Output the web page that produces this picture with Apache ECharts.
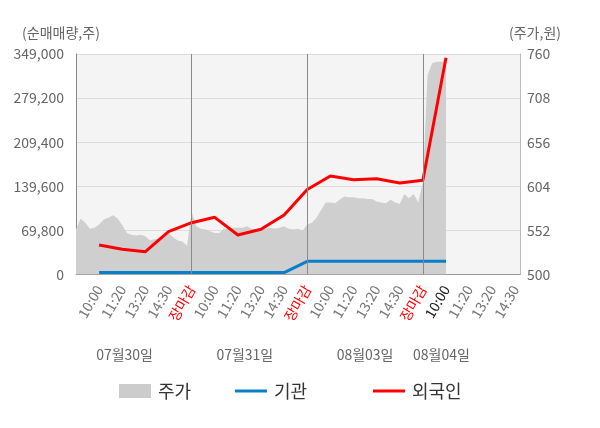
<!DOCTYPE html>
<html>
<head>
<meta charset="utf-8">
<script src="https://cdn.jsdelivr.net/npm/echarts@6/dist/echarts.min.js"></script>
<style>
html,body{margin:0;padding:0;background:#fff;}
#chart{width:600px;height:428px;}
</style>
</head>
<body>
<div id="chart"></div>
<script>
// ---- data ----
const dayLabels = ['07월30일', '07월31일', '08월03일', '08월04일'];
const tickLabels = ['', '10:00', '11:20', '13:20', '14:30', '장마감',
  '10:00', '11:20', '13:20', '14:30', '장마감',
  '10:00', '11:20', '13:20', '14:30', '장마감',
  '10:00', '11:20', '13:20', '14:30'];
const leftTicks = [0, 69800, 139600, 209400, 279200, 349000];
const rightTicks = [500, 552, 604, 656, 708, 760];

// intraday price (주가, 원), sampled 5 per label slot
const priceDay1 = [553, 566, 561, 554, 555, 559, 565, 567, 570, 566, 558, 549, 547, 546, 547, 545, 540, 542, 542, 546, 549, 544, 540, 539, 534];
const priceDay2 = [574, 557, 554, 553, 551, 549, 549, 554, 554, 555, 555, 555, 557, 554, 553, 554, 554, 555, 554, 555, 557, 554, 553, 554, 552];
const priceDay3 = [559, 561, 567, 576, 585, 585, 584, 588, 592, 591, 591, 590, 590, 589, 589, 586, 585, 584, 588, 585, 583, 595, 590, 595, 585];
const priceDay4 = [609, 735, 749, 751, 751, 751];

// cumulative net buying (주), one value per tick label from the first 10:00
const institutionNet = [3000, 3000, 3000, 3000, 3000, 3000, 3000, 3000, 3000, 20900, 20900, 20900, 20900, 20900, 20900, 20900];
const foreignNet = [46700, 39900, 36100, 67700, 82000, 90500, 62500, 71500, 94200, 134500, 155900, 150000, 151600, 144800, 149100, 343100];

// ---- build ----
const slotsPerDay = 5;
const samplesPerSlot = 5;
const priceDays = [priceDay1, priceDay2, priceDay3, priceDay4];
const priceData = [];
priceDays.forEach((arr, d) => {
  arr.forEach((v, i) => priceData.push([d * slotsPerDay + i / samplesPerSlot, v]));
});
const instData = institutionNet.map((v, i) => [i + 1, v]);
const forData = foreignNet.map((v, i) => [i + 1, v]);
const currentSlot = foreignNet.length;
const dayBounds = [1, 2, 3].map(d => ({ xAxis: d * slotsPerDay }));
const fmt = v => String(v).replace(/\B(?=(\d{3})+(?!\d))/g, ',');

const chart = echarts.init(document.getElementById('chart'));
const font = '"Noto Sans CJK KR", "Noto Sans", sans-serif';
const lineIcon = 'path://M0,0 L32,0 L32,3 L0,3 Z';
const legendText = { fontSize: 18, color: '#333', fontFamily: font, padding: [0, 0, 0, 2] };
chart.setOption({
  animation: false,
  textStyle: { fontFamily: font },
  grid: { left: 76, right: 80, top: 54, bottom: 153.5, show: true, backgroundColor: '#f4f4f4', borderWidth: 0 },
  xAxis: {
    type: 'value', min: 0, max: 19.2, interval: 1,
    axisLine: { show: true, lineStyle: { color: '#999', width: 1 } },
    axisTick: { show: false },
    splitLine: { show: false },
    axisLabel: {
      rotate: 60, margin: 12, fontSize: 14, color: '#777', fontFamily: font,
      showMaxLabel: false,
      formatter: function (v) {
        const k = Math.round(v);
        if (Math.abs(v - k) > 1e-6) return '';
        const s = tickLabels[k] || '';
        if (!s) return '';
        if (s === '장마감') return '{c|' + s + '}';
        if (k === currentSlot) return '{d|' + s + '}';
        return s;
      },
      rich: {
        c: { color: '#ff0000', fontSize: 14, fontFamily: font },
        d: { color: '#222', fontSize: 14, fontFamily: font }
      }
    }
  },
  yAxis: [
    {
      type: 'value', min: leftTicks[0], max: leftTicks[leftTicks.length - 1], interval: leftTicks[1] - leftTicks[0],
      axisLine: { show: true, lineStyle: { color: '#888' } },
      axisTick: { show: false },
      splitLine: { show: true, lineStyle: { color: '#dcdcdc', width: 1 } },
      axisLabel: { margin: 12, fontSize: 14, color: '#666', fontFamily: font, formatter: fmt }
    },
    {
      type: 'value', min: rightTicks[0], max: rightTicks[rightTicks.length - 1], interval: rightTicks[1] - rightTicks[0],
      position: 'right',
      axisLine: { show: true, lineStyle: { color: '#bbb' } },
      axisTick: { show: false },
      splitLine: { show: false },
      axisLabel: { margin: 7, fontSize: 14, color: '#666', fontFamily: font }
    }
  ],
  legend: [
    { left: 114, top: 377, itemWidth: 32, itemHeight: 14, itemGap: 0, data: [{ name: '주가', icon: 'rect' }], textStyle: legendText },
    { left: 230, top: 377, itemWidth: 32, itemHeight: 14, itemGap: 0, data: [{ name: '기관', icon: lineIcon }], textStyle: legendText },
    { left: 368, top: 377, itemWidth: 32, itemHeight: 14, itemGap: 0, data: [{ name: '외국인', icon: lineIcon }], textStyle: legendText }
  ],
  series: [
    {
      name: '주가', type: 'line', yAxisIndex: 1, data: priceData, symbol: 'none',
      color: '#cccccc',
      lineStyle: { width: 0, color: '#cfcfcf' },
      areaStyle: { color: '#cfcfcf', opacity: 1 },
      itemStyle: { color: '#cccccc' },
      z: 1,
      markLine: {
        silent: true, symbol: 'none', label: { show: false },
        lineStyle: { color: '#8a8a8a', width: 1, type: 'solid' },
        data: dayBounds
      }
    },
    {
      name: '기관', type: 'line', yAxisIndex: 0, data: instData, symbol: 'none',
      color: '#0a7fc9', lineStyle: { width: 3, color: '#0a7fc9' }, itemStyle: { color: '#0a7fc9' }, z: 3
    },
    {
      name: '외국인', type: 'line', yAxisIndex: 0, data: forData, symbol: 'none',
      color: '#ff0000', lineStyle: { width: 3, color: '#ff0000' }, itemStyle: { color: '#ff0000' }, z: 4
    }
  ]
});

// date labels under the time ticks and axis titles
const dateSlots = [2.1, 7.3, 12.5, 15.8];
const graphics = dayLabels.map((t, i) => {
  const px = chart.convertToPixel({ xAxisIndex: 0 }, dateSlots[i]);
  return { type: 'text', x: px, y: 355, style: { text: t, fill: '#666', font: '14px ' + font, align: 'center', verticalAlign: 'middle' } };
});
graphics.push({ type: 'text', x: 61, y: 33, style: { text: '(순매매량,주)', fill: '#666', font: '14px ' + font, align: 'center', verticalAlign: 'middle' } });
graphics.push({ type: 'text', x: 535, y: 33, style: { text: '(주가,원)', fill: '#666', font: '14px ' + font, align: 'center', verticalAlign: 'middle' } });
chart.setOption({ graphic: graphics });
</script>
</body>
</html>
